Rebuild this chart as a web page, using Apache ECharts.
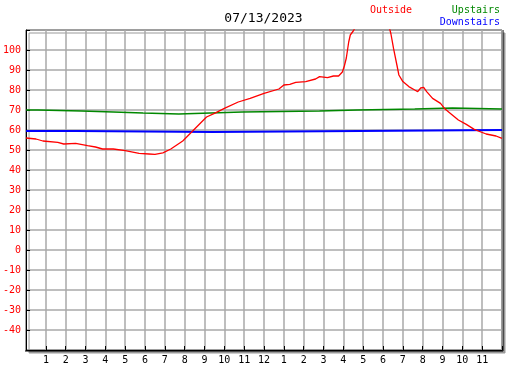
<!DOCTYPE html>
<html>
<head>
<meta charset="utf-8">
<script src="https://cdn.jsdelivr.net/npm/echarts@6/dist/echarts.min.js"></script>
<style>html,body{margin:0;padding:0;background:#fff}#c{width:527px;height:370px}</style>
</head>
<body>
<div id="c"></div>
<script>
const chartTitle = '07/13/2023';
const seriesNames = ['Outside', 'Upstairs', 'Downstairs'];
const hourTicks = [0,1,2,3,4,5,6,7,8,9,10,11,12,13,14,15,16,17,18,19,20,21,22,23,24];
const tempTicks = [-50,-40,-30,-20,-10,0,10,20,30,40,50,60,70,80,90,100,110];

const outsideHours = [0,0.5,0.85,1.6,1.9,2.5,3.1,3.5,3.86,4.4,5.0,5.7,6.2,6.5,6.9,7.3,7.9,8.45,9.1,9.5,10.0,10.7,11.3,12.0,12.75,13.0,13.3,13.6,14.1,14.6,14.8,15.2,15.5,15.76,15.95,16.05,16.15,16.27,16.35,16.5,16.7,17.0,17.5,18.0,18.3,18.4,18.53,18.7,18.8,19.0,19.3,19.6,19.75,19.9,20.05,20.2,20.5,20.9,21.1,21.4,21.8,22.2,22.6,23.2,23.7,24];
const outsideTemps = [56,55.5,54.5,53.8,53,53.3,52.2,51.5,50.5,50.5,49.7,48.3,48,47.8,48.6,50.5,54.5,60,66.5,68.3,70.8,74,75.8,78.3,80.5,82.5,82.8,83.8,84.2,85.5,86.7,86.2,87,87,89,92,96,104,107.5,109.5,113,117,119,117,112,108,100.8,92.5,87.5,84.2,81.7,80,79.2,81,81.3,79.2,75.8,73.3,70.8,68.3,65,62.8,60.3,58,57,55.8];

const upstairsHours = [0,0.6,2.8,4.4,5.9,7.7,9.3,10.9,14.8,16.7,19.6,21.5,24];
const upstairsTemps = [70,69.5,69,68.5,68,68.5,69,69.5,70,70.5,71,70.5,70.5];

const downstairsHours = [0,2.55,9.4,16.8,24];
const downstairsTemps = [59.5,59,59.5,60,60];

const zip = (xs, ys) => xs.map((x, i) => [x, ys[i]]);
const FONT = 'DejaVu Sans Mono';

const chart = echarts.init(document.getElementById('c'), null, {renderer: 'canvas'});
const G = {left: 25, top: 30, width: 477, height: 320};
chart.setOption({
  animation: false,
  backgroundColor: '#fff',
  grid: {left: G.left, top: G.top, width: G.width, height: G.height, show: true,
    backgroundColor: '#fff', borderColor: '#000', borderWidth: 1,
    shadowColor: '#999', shadowBlur: 0, shadowOffsetX: 3, shadowOffsetY: 3},
  xAxis: {
    type: 'value', min: hourTicks[0], max: hourTicks[hourTicks.length-1], interval: 1,
    axisLine: {show: true, onZero: false, lineStyle: {color: '#000', width: 1}},
    axisTick: {show: true, inside: true, length: 4, lineStyle: {color: '#000'}},
    axisLabel: {color: '#000', fontFamily: FONT, fontSize: 10, margin: 5,
      formatter: v => (v <= 0 || v >= 24) ? '' : String(v % 12 === 0 ? 12 : v % 12)},
    splitLine: {show: true, lineStyle: {color: '#a8a8a8', width: 1.5}}
  },
  yAxis: {
    type: 'value', min: tempTicks[0], max: tempTicks[tempTicks.length-1], interval: 10,
    axisLine: {show: true, onZero: false, lineStyle: {color: '#000', width: 1}},
    axisTick: {show: true, inside: true, length: 4, lineStyle: {color: '#000'}},
    axisLabel: {color: '#ff0000', fontFamily: FONT, fontSize: 10, margin: 5,
      formatter: v => (v <= -50 || v >= 110) ? '' : String(v)},
    splitLine: {show: true, lineStyle: {color: '#a8a8a8', width: 1.5}}
  },
  graphic: [
    {type: 'text', left: 'center', top: 12, style: {text: chartTitle, font: '13px "DejaVu Sans Mono"', fill: '#000'}},
    {type: 'text', x: 370, y: 5, style: {text: seriesNames[0], font: '10px "DejaVu Sans Mono"', fill: '#ff0000'}},
    {type: 'text', right: 27, top: 5, style: {text: seriesNames[1], font: '10px "DejaVu Sans Mono"', fill: '#008800', textAlign: 'right'}},
    {type: 'text', right: 27, top: 17, style: {text: seriesNames[2], font: '10px "DejaVu Sans Mono"', fill: '#0000ff', textAlign: 'right'}},
    {type: 'line', shape: {x1: G.left + G.width + 1, y1: G.top, x2: G.left + G.width + 1, y2: G.top + G.height + 1}, style: {stroke: '#000', lineWidth: 1}},
    {type: 'line', shape: {x1: G.left, y1: G.top + G.height + 1, x2: G.left + G.width + 1, y2: G.top + G.height + 1}, style: {stroke: '#000', lineWidth: 1}}
  ],
  series: [
    {name: seriesNames[1], type: 'line', data: zip(upstairsHours, upstairsTemps), step: 'end', symbol: 'none',
      lineStyle: {color: '#008800', width: 1.5}, z: 3},
    {name: seriesNames[2], type: 'line', data: zip(downstairsHours, downstairsTemps), step: 'end', symbol: 'none',
      lineStyle: {color: '#0000ff', width: 2}, z: 3},
    {name: seriesNames[0], type: 'line', data: zip(outsideHours, outsideTemps), symbol: 'none', clip: true,
      lineStyle: {color: '#ff0000', width: 1.3}, z: 4}
  ]
});
</script>
</body>
</html>
